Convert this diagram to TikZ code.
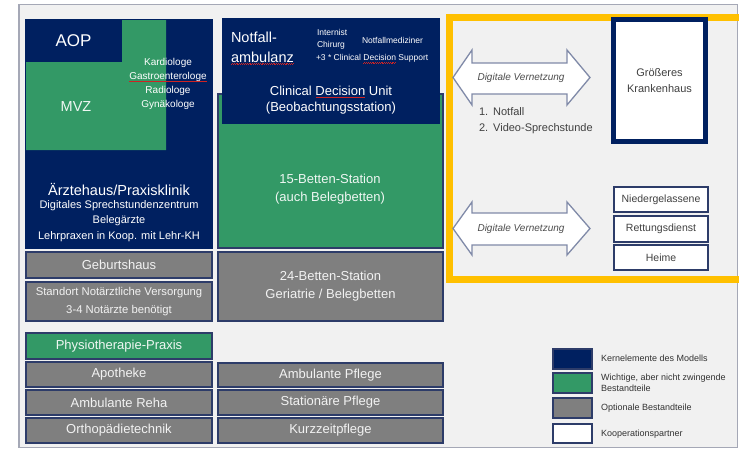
\documentclass[tikz,border=0pt]{standalone}
\usepackage{fontspec}
\setmainfont{Liberation Sans}

\definecolor{navy}{RGB}{0,32,96}
\definecolor{kgreen}{RGB}{51,153,102}
\definecolor{kgray}{RGB}{127,127,127}
\definecolor{bg}{RGB}{241,241,241}
\definecolor{gold}{RGB}{255,192,0}
\definecolor{edge}{RGB}{45,60,105}
\definecolor{framec}{RGB}{165,168,182}
\definecolor{arrowc}{RGB}{128,138,168}
\definecolor{spellred}{RGB}{205,35,35}

% red wavy spell-check mark under a word
\newcommand\spellmark[1]{\setbox0=\hbox{#1}\rlap{\textcolor{spellred}{\raisebox{-2.2pt}{\hbox to \wd0{\xleaders\hbox{\rule[0pt]{0.9pt}{0.6pt}\rule[0.6pt]{0.9pt}{0.6pt}}\hfill}}}}\box0\relax}

% \blk{name}{x1}{y1}{x2}{y2}{style}{text}
\newcommand\blk[7]{\node[#6, minimum width={(#4-#2)*1pt}, minimum height={(#5-#3)*1pt}] (#1) at ({(#2+#4)/2},{(#3+#5)/2}) {#7};}

\newcommand\fs[2]{\fontsize{#1}{#2}\selectfont}

\begin{document}
\begin{tikzpicture}[x=1pt,y=-1pt]
\tikzset{
  cell/.style={inner sep=0pt, outer sep=0pt, align=center, line width=1.1pt},
  corebox/.style={cell, fill=navy, draw=navy, text=white},
  keybox/.style={cell, fill=kgreen, draw=edge, text=white!92!kgreen},
  optbox/.style={cell, fill=kgray, draw=edge, text=white!90!kgray, font=\fs{13}{18}},
  partnerbox/.style={cell, fill=white, draw=edge, text=black!75, font=\fs{10.5}{13}},
  txt/.style={inner sep=0pt, outer sep=0pt, align=center},
  linkarrow/.style={fill=white, draw=arrowc, line width=1.3pt, line join=miter},
  legtxt/.style={txt, anchor=west, align=left, text=black!80, font=\fs{9}{11}},
}
\useasboundingbox (0,0) rectangle (739,450);
\clip (0,0) rectangle (739,450);
\fill[white] (0,0) rectangle (739,450);

% outer panel
\draw[fill=bg, draw=framec, line width=1.5pt] (19,4.5) rectangle (737.5,447.5);

% ---------- left column ----------
\blk{praxis}{26}{20}{212}{248}{corebox}{}
\fill[kgreen] (121,20) -- (166,20) -- (166,150) -- (26,150) -- (26,61) -- (121,61) -- cycle;
\blk{aop}{26}{20}{121}{61}{corebox, font=\fs{17}{20}}{AOP}
\node[txt, text=white!92!kgreen, font=\fs{14.5}{17}] (mvz) at (76,107) {MVZ};
\node[txt, text=white, font=\fs{10}{14}] (fach) at (168,84)
  {Kardiologe\\\spellmark{Gastroenterologe}\\Radiologe\\Gynäkologe};
\node[txt, text=white, font=\fs{14.5}{17}] (praxistitel) at (119,189) {Ärztehaus/Praxisklinik};
\node[txt, text=white, font=\fs{11}{15.5}] (praxisinfo) at (119,221)
  {Digitales Sprechstundenzentrum\\Belegärzte\\Lehrpraxen in Koop. mit Lehr-KH};

\blk{geburt}{26}{252}{212}{278}{optbox}{Geburtshaus}
\blk{notarzt}{26}{282}{212}{321}{optbox, font=\fs{11.3}{18}}{Standort Notärztliche Versorgung\\3-4 Notärzte benötigt}
\blk{physio}{26}{333}{212}{359}{keybox, font=\fs{13}{18}}{Physiotherapie-Praxis}
\blk{apotheke}{26}{362}{212}{387}{optbox}{Apotheke}
\blk{reha}{26}{390}{212}{415}{optbox}{Ambulante Reha}
\blk{ortho}{26}{418}{212}{443}{optbox}{Orthopädietechnik}

% ---------- middle column ----------
\blk{station}{218}{94}{443}{248}{keybox}{}
\blk{notfall}{223}{19}{439}{76}{corebox}{}
\node[txt, anchor=west, align=left, text=white, font=\fs{14.5}{20}] (notfalltitel) at (231,48)
  {Notfall-\\\spellmark{ambulanz}};
\node[txt, anchor=west, align=left, text=white, font=\fs{8.5}{12}] (aerzte) at (317,39) {Internist\\Chirurg};
\node[txt, anchor=west, text=white, font=\fs{8.5}{11}] (nfmed) at (362,40) {Notfallmediziner};
\node[txt, anchor=west, text=white, font=\fs{8.5}{11}] (cds) at (316,59) {+3 * Clinical \spellmark{Decision} Support};
\blk{cdu}{223}{78}{439}{123}{corebox, font=\fs{13}{16}}{Clinical \spellmark{Decision} Unit\\(Beobachtungsstation)}
\node[txt, text=white!92!kgreen, font=\fs{13}{18}] (betten15) at (330,189) {15-Betten-Station\\(auch Belegbetten)};

\blk{betten24}{218}{252}{443}{321}{optbox}{24-Betten-Station\\Geriatrie / Belegbetten}
\blk{ambpflege}{218}{363}{443}{387}{optbox}{Ambulante Pflege}
\blk{statpflege}{218}{390}{443}{415}{optbox}{Stationäre Pflege}
\blk{kurzzeit}{218}{418}{443}{443}{optbox}{Kurzzeitpflege}

% ---------- cooperation partners ----------
\draw[gold, line width=7pt] (449.5,17) rectangle (760,279);

\draw[linkarrow] (453,77.5) -- (472,50) -- (472,63) -- (567,63) -- (567,50) -- (590,77.5)
  -- (567,105) -- (567,94) -- (472,94) -- (472,105) -- cycle;
\node[txt, text=black!70, font=\itshape\fs{10}{12}] (vernetzung1) at (521,77.5) {Digitale Vernetzung};
\draw[linkarrow] (453,228.5) -- (472,202) -- (472,213) -- (567,213) -- (567,202) -- (590,228.5)
  -- (567,255) -- (567,245) -- (472,245) -- (472,255) -- cycle;
\node[txt, text=black!70, font=\itshape\fs{10}{12}] (vernetzung2) at (521,228.5) {Digitale Vernetzung};

\node[txt, anchor=west, align=left, text=black!75, font=\fs{11}{16}] (liste) at (479,121)
  {1.\hspace{5pt}Notfall\\2.\hspace{5pt}Video-Sprechstunde};

\blk{khaus}{613.5}{19.5}{705.5}{141.5}{partnerbox, draw=navy, line width=5pt, font=\fs{11}{16}}{Größeres\\Krankenhaus}
\blk{niedergel}{614}{187}{708}{212}{partnerbox}{Niedergelassene}
\blk{rettung}{614}{216}{708}{242}{partnerbox, line width=1.6pt}{Rettungsdienst}
\blk{heime}{614}{245}{708}{270}{partnerbox}{Heime}

% ---------- legend ----------
\blk{legcore}{553}{349}{592}{369}{corebox, draw=edge}{}
\blk{legkey}{553}{373}{592}{393}{keybox}{}
\blk{legopt}{553}{398}{592}{418}{optbox}{}
\blk{legpart}{553}{424}{592}{443}{partnerbox}{}
\node[legtxt] (legcoretxt) at (601,358) {Kernelemente des Modells};
\node[legtxt] (legkeytxt) at (601,383) {Wichtige, aber nicht zwingende\\Bestandteile};
\node[legtxt] (legopttxt) at (601,408) {Optionale Bestandteile};
\node[legtxt] (legparttxt) at (601,434) {Kooperationspartner};
\end{tikzpicture}
\end{document}
